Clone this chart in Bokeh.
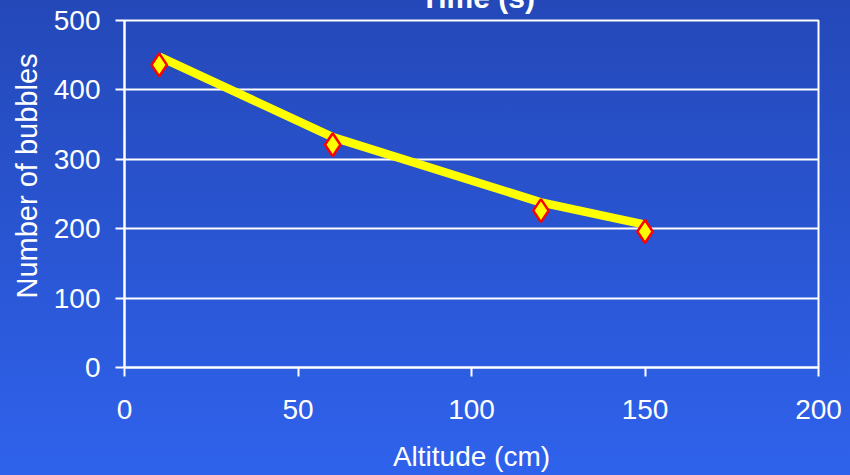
from bokeh.plotting import figure
from bokeh.models import FixedTicker, InlineStyleSheet, Range1d, Title
from bokeh.embed import file_html
from bokeh.resources import INLINE

# ---- data ----
altitude_cm = [10, 60, 120, 150]
bubbles = [436, 321, 226, 196]
line_values = [448, 332, 238, 206]
x_ticks = [0, 50, 100, 150, 200]
y_ticks = [0, 100, 200, 300, 400, 500]
title_text = "Time (s)"
x_label = "Altitude (cm)"
y_label = "Number of bubbles"

FONT = "Liberation Sans"
WHITE = "#ffffff"
SHIFT = 40  # the chart title sits partly above the visible window

p = figure(width=850, height=475 + SHIFT, output_backend="svg", toolbar_location=None,
           x_range=Range1d(0, 200), y_range=Range1d(0, 500),
           min_border_left=124, min_border_right=32,
           min_border_top=20 + SHIFT, min_border_bottom=108)

p.stylesheets = [InlineStyleSheet(css=(
    ":host { margin-top: -%dpx; background: linear-gradient(to bottom, #2448b8 %dpx, #2f62ec 100%%); }"
    % (SHIFT, SHIFT)))]
p.background_fill_alpha = 0
p.border_fill_alpha = 0
p.outline_line_color = WHITE
p.outline_line_width = 2

# title
p.title.text = title_text
p.title.align = "left"
p.title.offset = 296
p.title.text_color = WHITE
p.title.text_font = FONT
p.title.text_font_size = "30px"
p.title.text_font_style = "bold"
p.title.standoff = 13

p.xgrid.grid_line_color = None
p.ygrid.grid_line_color = WHITE
p.ygrid.grid_line_width = 2
p.ygrid.ticker = FixedTicker(ticks=y_ticks)

for ax in (p.xaxis[0], p.yaxis[0]):
    ax.axis_line_color = WHITE
    ax.axis_line_width = 2
    ax.major_tick_line_color = WHITE
    ax.major_tick_line_width = 2
    ax.major_tick_out = 9
    ax.major_tick_in = 0
    ax.minor_tick_line_color = None
    ax.major_label_text_color = WHITE
    ax.major_label_text_font = FONT
    ax.major_label_text_font_size = "28px"

p.xaxis.ticker = FixedTicker(ticks=x_ticks)
p.yaxis.ticker = FixedTicker(ticks=y_ticks)
p.xaxis.major_label_standoff = 23
p.yaxis.major_label_standoff = 15
p.xaxis.axis_label = x_label
p.xaxis.axis_label_text_color = WHITE
p.xaxis.axis_label_text_font = FONT
p.xaxis.axis_label_text_font_size = "28px"
p.xaxis.axis_label_text_font_style = "normal"
p.xaxis.axis_label_standoff = 19

# y axis label as a side title (sits a little above centre, as in the reference)
p.add_layout(Title(text=y_label, align="left", offset=69, standoff=15,
                   text_color=WHITE, text_font=FONT, text_font_size="29px",
                   text_font_style="normal"), "left")

p.line(altitude_cm, line_values, line_color="#ffff00", line_width=8.5, line_cap="butt")
p.scatter(altitude_cm, bubbles, marker="diamond", size=23, fill_color="#ffff00",
          line_color="#ff0000", line_width=2.5)

open("out.html", "w").write(file_html(p, INLINE))
